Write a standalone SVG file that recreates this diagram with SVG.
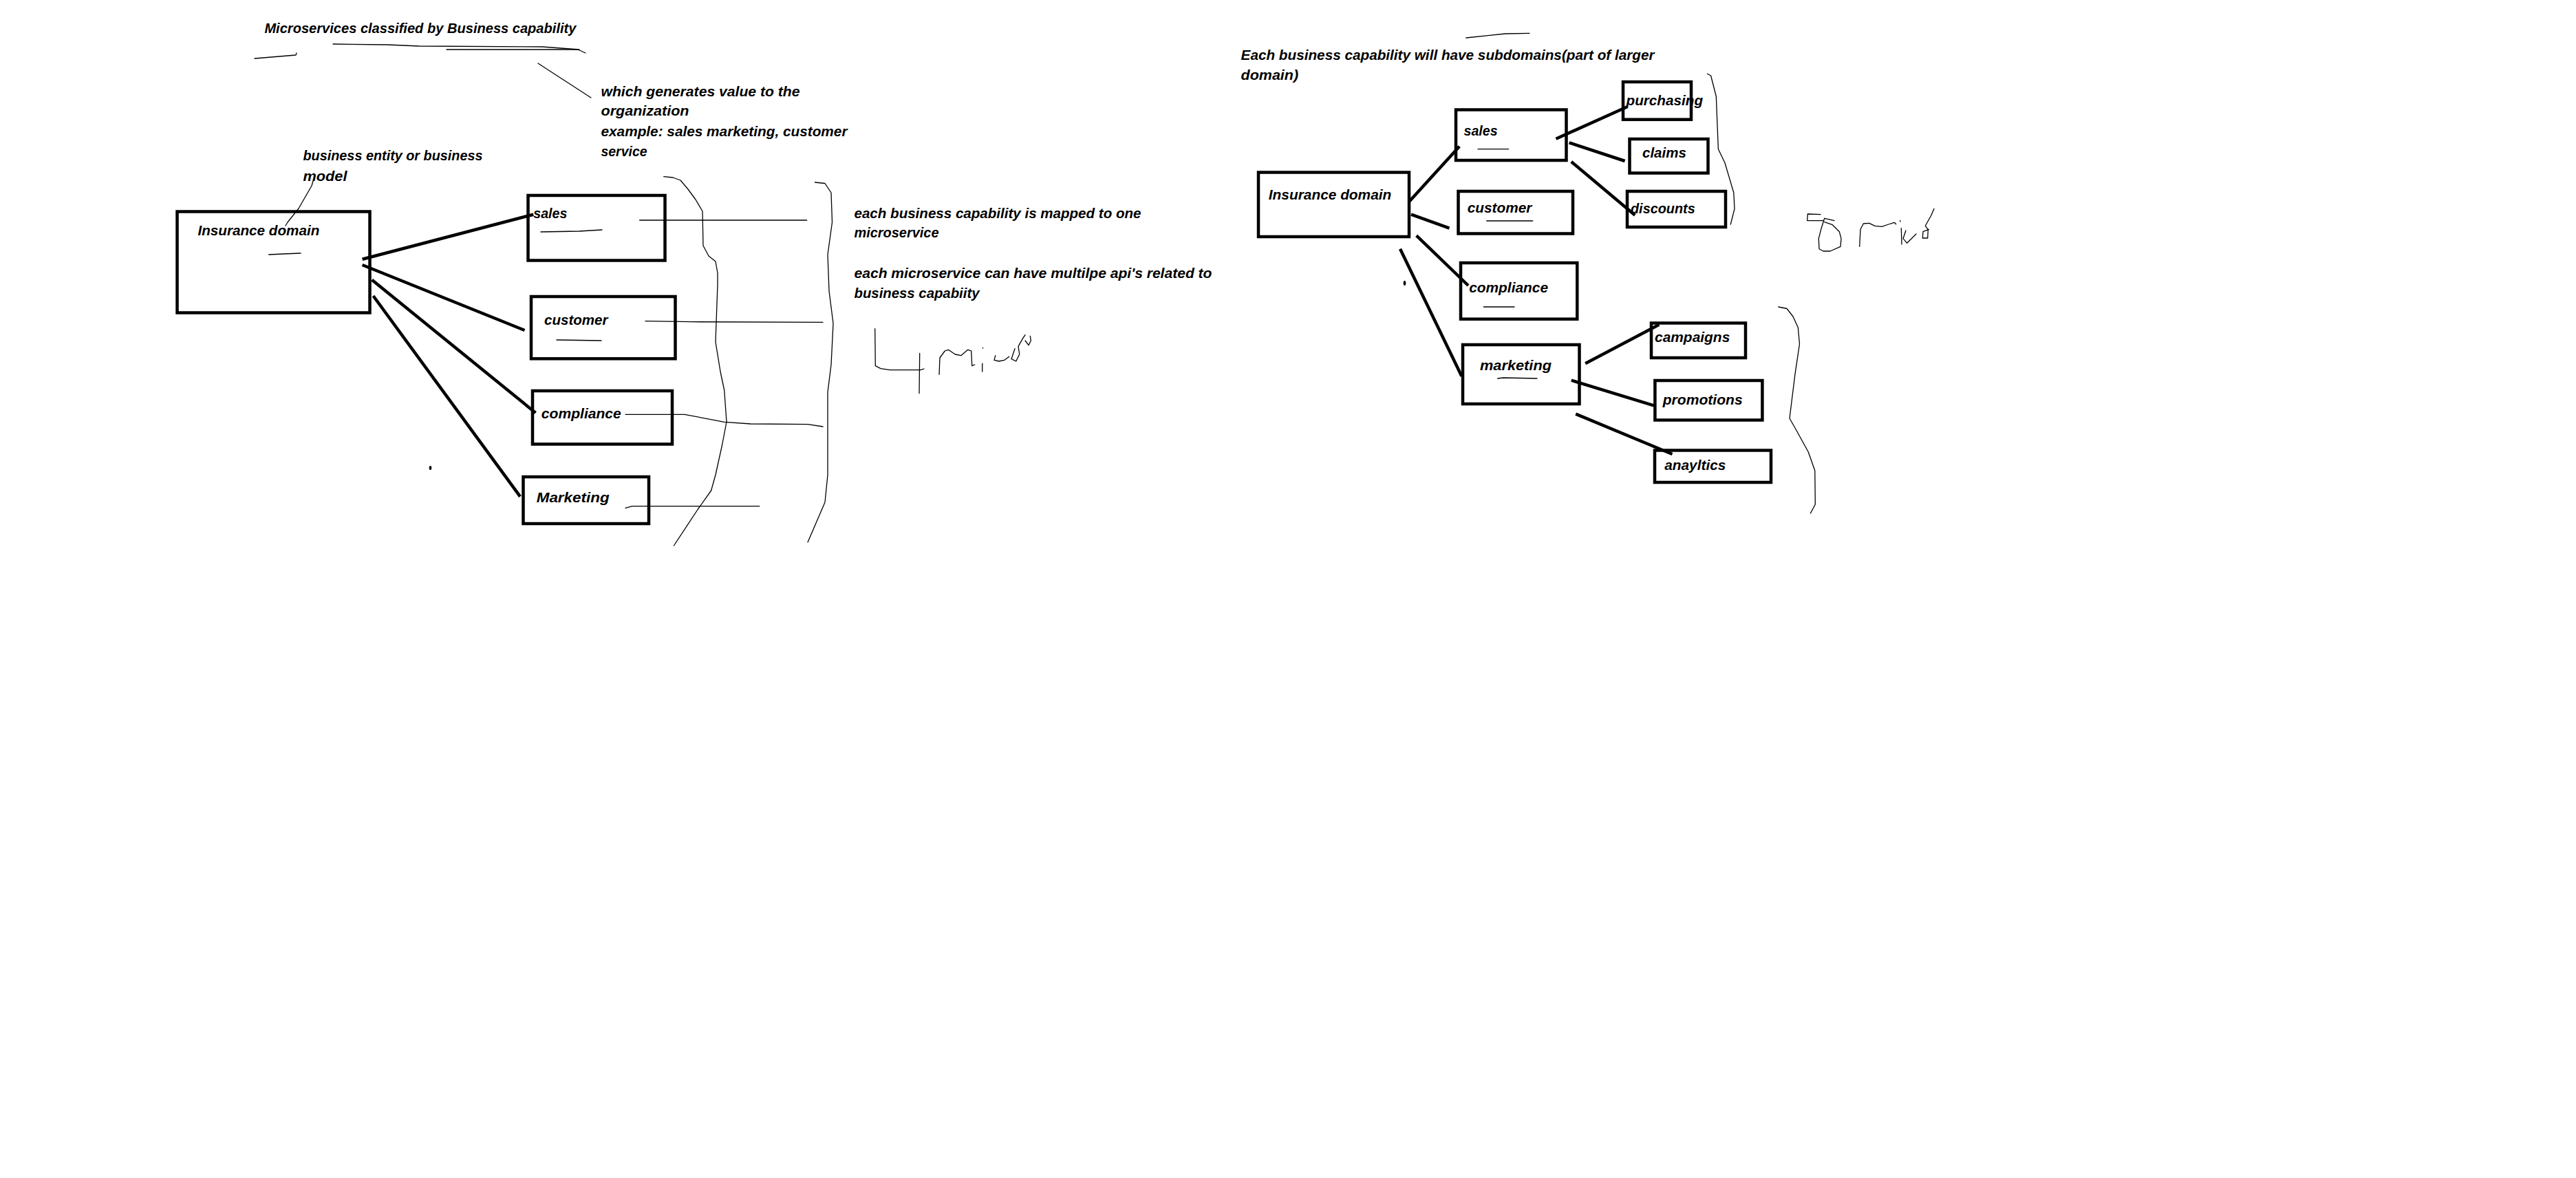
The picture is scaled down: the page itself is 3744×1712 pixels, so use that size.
<svg xmlns="http://www.w3.org/2000/svg" width="3744" height="1712" viewBox="0 0 3744 1712">
  <style>
    .t { font-family: "Liberation Sans", Arial, sans-serif; font-size: 21px; font-weight: bold; font-style: italic; fill: #000; }
    .box { fill: none; stroke: #000; stroke-width: 4.5; }
    .link { fill: none; stroke: #000; stroke-width: 4.5; stroke-linecap: butt; }
    .pen { fill: none; stroke: #000; stroke-width: 1.3; stroke-linejoin: round; stroke-linecap: round; }
  </style>
  <rect width="3744" height="1712" fill="#fff"/>

  <!-- Left sketch: capabilities of the insurance domain -->
  <g id="notes-left">
    <text class="t" x="384.4" y="48" textLength="453" lengthAdjust="spacingAndGlyphs">Microservices classified by Business capability</text>
    <polyline class="pen" points="370,85 430,80 431,77"/>
    <polyline class="pen" points="484,64 563,65 609,67 788,68 842,72"/>
    <polyline class="pen" points="649,72 840,72 851,77"/>
    <polyline class="pen" points="782,92 805,107 859,142"/>
    <text class="t" x="873.5" y="140" textLength="289" lengthAdjust="spacingAndGlyphs">which generates value to the</text>
    <text class="t" x="873.5" y="168" textLength="128" lengthAdjust="spacingAndGlyphs">organization</text>
    <text class="t" x="873.5" y="198" textLength="358" lengthAdjust="spacingAndGlyphs">example: sales marketing, customer</text>
    <text class="t" x="873.5" y="227" textLength="67" lengthAdjust="spacingAndGlyphs">service</text>
    <text class="t" x="440.5" y="233" textLength="261" lengthAdjust="spacingAndGlyphs">business entity or business</text>
    <text class="t" x="440.5" y="263" textLength="64" lengthAdjust="spacingAndGlyphs">model</text>
    <polyline class="pen" points="456,260 453,270 434,303 418,323 415,328"/>
    <text class="t" x="1241.5" y="316.8" textLength="417" lengthAdjust="spacingAndGlyphs">each business capability is mapped to one</text>
    <text class="t" x="1241.5" y="345.4" textLength="123" lengthAdjust="spacingAndGlyphs">microservice</text>
    <text class="t" x="1241.5" y="404.3" textLength="520" lengthAdjust="spacingAndGlyphs">each microservice can have multilpe api's related to</text>
    <text class="t" x="1241.5" y="432.9" textLength="182" lengthAdjust="spacingAndGlyphs">business capabiity</text>
    <!-- braces -->
    <polyline class="pen" points="964.7,256.7 978,258 989,262 1000,275 1011,290 1021,307 1022,357 1030,372 1040,380 1043,397 1043,413 1040,497 1047,540 1052.7,567 1056,613 1049.5,647 1040,690 1033.6,713 1014.4,740 979.4,793"/>
    <polyline class="pen" points="1184.5,265 1199,266.5 1208,280 1209.5,323 1203,370 1205,423 1211,470 1208,530 1203,570 1203,690 1199,730 1174,788"/>
    <!-- leader lines to the brace -->
    <polyline class="pen" points="929.6,320 1172.6,320"/>
    <polyline class="pen" points="938,466.7 1005,467.7 1196,468.3"/>
    <polyline class="pen" points="909,602.3 995,602.3 1052.7,613.3 1091,616 1174,616.7 1196,620"/>
    <polyline class="pen" points="909,738.3 918.8,735.7 1103.7,735.7"/>
    <!-- handwritten count -->
    <polyline class="pen" points="1271.7,477.7 1272.3,531.7 1280,535.7 1293.3,537.7 1338,537.7 1343,536"/>
    <polyline class="pen" points="1336.7,513.3 1336,571.7"/>
    <polyline class="pen" points="1365,544.3 1366,520 1373.3,510 1378.3,508.3 1388.3,515 1396.7,516.7 1406.7,508.3 1411.7,510 1412.7,531.7 1416.7,530"/>
    <polyline class="pen" points="1427.7,528.3 1427.7,540"/>
    <polyline class="pen" points="1428.3,505.3 1428.6,506"/>
    <polyline class="pen" points="1446.7,516.7 1445,523.3 1451.7,525 1460,523.3 1466.7,518.3"/>
    <polyline class="pen" points="1475,506.7 1470,521.7 1476.7,525 1481.7,515 1480,503.3 1486.7,491.7 1490,486.7"/>
    <polyline class="pen" points="1490,495 1495,501.7 1498.3,495 1497.3,488.3"/>
    <ellipse cx="625.5" cy="680" rx="1.8" ry="3" fill="#000"/>
  </g>

  <g id="connectors-left">
    <line class="link" x1="526.6" y1="376.7" x2="775.3" y2="311.7"/>
    <line class="link" x1="526.6" y1="385" x2="762.5" y2="480"/>
    <line class="link" x1="540.6" y1="406.7" x2="778.5" y2="600"/>
    <line class="link" x1="542.5" y1="430" x2="756" y2="721.7"/>
  </g>

  <g id="insurance-domain-left">
    <rect class="box" x="257.5" y="307.5" width="280" height="147"/>
    <text class="t" x="287.4" y="341.7" textLength="177" lengthAdjust="spacingAndGlyphs">Insurance domain</text>
    <polyline class="pen" points="390.7,370 412,369 437,368"/>
  </g>
  <g id="sales-left">
    <rect class="box" x="767.5" y="284" width="199" height="94.5"/>
    <text class="t" x="775.3" y="316.7" textLength="49" lengthAdjust="spacingAndGlyphs">sales</text>
    <polyline class="pen" points="786,337 842,336 875,334"/>
  </g>
  <g id="customer-left">
    <rect class="box" x="772" y="431" width="209.5" height="90.3"/>
    <text class="t" x="791" y="471.7" textLength="92.5" lengthAdjust="spacingAndGlyphs">customer</text>
    <polyline class="pen" points="809,494 874,495"/>
  </g>
  <g id="compliance-left">
    <rect class="box" x="774" y="568" width="203" height="77.5"/>
    <text class="t" x="786.8" y="608.3" textLength="116" lengthAdjust="spacingAndGlyphs">compliance</text>
  </g>
  <g id="marketing-left">
    <rect class="box" x="760.5" y="693" width="182.5" height="68"/>
    <text class="t" x="779.7" y="730" textLength="106" lengthAdjust="spacingAndGlyphs">Marketing</text>
  </g>

  <!-- Right sketch: subdomains of each capability -->
  <g id="notes-right">
    <polyline class="pen" points="2130.8,55 2162.7,51.7 2188,49 2223,48.3"/>
    <text class="t" x="1803.6" y="86.7" textLength="601" lengthAdjust="spacingAndGlyphs">Each business capability will have subdomains(part of larger</text>
    <text class="t" x="1803.6" y="116" textLength="83.5" lengthAdjust="spacingAndGlyphs">domain)</text>
    <polyline class="pen" points="2481.5,107.3 2486.6,110 2494.3,140 2497.4,216.7 2507,236.7 2519.8,280 2521,303.3 2515.3,326"/>
    <polyline class="pen" points="2584.8,446 2597,448.5 2606,460 2613.3,476 2615.5,500 2609,543.3 2601,608 2609,622 2628.2,656.7 2637.8,684 2638.3,733 2631.4,746"/>
    <!-- handwritten count -->
    <polyline class="pen" points="2646,311.7 2627.3,311 2626.7,320.7 2650,320.7"/>
    <polyline class="pen" points="2651.7,317.3 2666,320.7"/>
    <polyline class="pen" points="2651.7,317.3 2646.7,333.3 2643.3,346.7 2644,361.7 2650,365 2660,365 2675,358.3 2676,346.7 2673.3,336.7 2663.3,326.7 2651.7,322.7"/>
    <polyline class="pen" points="2702.7,358.3 2704,333.3 2708.3,325 2716.7,324.3 2725,328.3 2735,329.3 2745,326 2753.3,323.3 2755.7,325.7"/>
    <polyline class="pen" points="2763.3,331.7 2764,355"/>
    <polyline class="pen" points="2761.5,320.5 2762,322"/>
    <polyline class="pen" points="2770,335 2766,346.7 2771.7,353.3 2785,340"/>
    <polyline class="pen" points="2803.3,333.3 2795,336.7 2794.3,346 2801.7,346 2802.3,333.3 2798.3,328.3 2806.7,313.3 2811,303.3"/>
    <ellipse cx="2041.5" cy="411.5" rx="1.8" ry="3.5" fill="#000"/>
  </g>

  <g id="connectors-right">
    <line class="link" x1="2047.9" y1="293.3" x2="2121.2" y2="212.7"/>
    <line class="link" x1="2051" y1="311.7" x2="2106.5" y2="331.7"/>
    <line class="link" x1="2058.7" y1="342.3" x2="2134" y2="415"/>
    <line class="link" x1="2035" y1="361.7" x2="2124.4" y2="546.7"/>
    <line class="link" x1="2261.5" y1="201.7" x2="2365.5" y2="155"/>
    <line class="link" x1="2280.6" y1="207.3" x2="2361.6" y2="234"/>
    <line class="link" x1="2283.8" y1="235" x2="2376.3" y2="312.7"/>
    <line class="link" x1="2304.2" y1="528.3" x2="2411.4" y2="471.7"/>
    <line class="link" x1="2283.8" y1="552.7" x2="2403.7" y2="589.3"/>
    <line class="link" x1="2290.2" y1="601.7" x2="2430.5" y2="660"/>
  </g>

  <g id="insurance-domain-right">
    <rect class="box" x="1829" y="250.5" width="219" height="93.5"/>
    <text class="t" x="1843.8" y="290" textLength="178.5" lengthAdjust="spacingAndGlyphs">Insurance domain</text>
  </g>
  <g id="sales-right">
    <rect class="box" x="2116" y="159.5" width="160.5" height="73.5"/>
    <text class="t" x="2127.6" y="196.7" textLength="49" lengthAdjust="spacingAndGlyphs">sales</text>
    <polyline class="pen" points="2148,216.7 2192.6,216.7"/>
  </g>
  <g id="customer-right">
    <rect class="box" x="2119.5" y="278" width="166.5" height="61.5"/>
    <text class="t" x="2132.7" y="309.3" textLength="93.7" lengthAdjust="spacingAndGlyphs">customer</text>
    <polyline class="pen" points="2160.7,321 2227.7,321"/>
  </g>
  <g id="compliance-right">
    <rect class="box" x="2123" y="382" width="169.3" height="81.7"/>
    <text class="t" x="2135.2" y="425" textLength="114.8" lengthAdjust="spacingAndGlyphs">compliance</text>
    <polyline class="pen" points="2156.3,446 2201,446"/>
  </g>
  <g id="marketing-right">
    <rect class="box" x="2126" y="501" width="169.5" height="86"/>
    <text class="t" x="2151" y="538.3" textLength="104" lengthAdjust="spacingAndGlyphs">marketing</text>
    <polyline class="pen" points="2176.7,550 2185,549 2234,550"/>
  </g>
  <g id="purchasing">
    <rect class="box" x="2359" y="119" width="99" height="54.7"/>
    <text class="t" x="2363.5" y="152.7" textLength="111.6" lengthAdjust="spacingAndGlyphs">purchasing</text>
  </g>
  <g id="claims">
    <rect class="box" x="2368.5" y="202" width="114" height="49.5"/>
    <text class="t" x="2387" y="229.3" textLength="63.8" lengthAdjust="spacingAndGlyphs">claims</text>
  </g>
  <g id="discounts">
    <rect class="box" x="2365" y="278" width="143" height="52"/>
    <text class="t" x="2370" y="310" textLength="93.7" lengthAdjust="spacingAndGlyphs">discounts</text>
  </g>
  <g id="campaigns">
    <rect class="box" x="2400" y="469.5" width="137" height="50.5"/>
    <text class="t" x="2405" y="496.7" textLength="109.3" lengthAdjust="spacingAndGlyphs">campaigns</text>
  </g>
  <g id="promotions">
    <rect class="box" x="2405.4" y="553" width="156" height="57.5"/>
    <text class="t" x="2416.7" y="588.3" textLength="116" lengthAdjust="spacingAndGlyphs">promotions</text>
  </g>
  <g id="anayltics">
    <rect class="box" x="2405" y="654.5" width="169" height="46.5"/>
    <text class="t" x="2419.3" y="683.3" textLength="89" lengthAdjust="spacingAndGlyphs">anayltics</text>
  </g>
</svg>
